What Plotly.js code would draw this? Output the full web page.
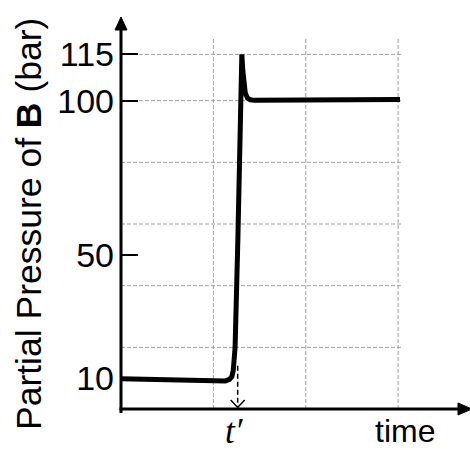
<!DOCTYPE html>
<html>
<head>
<meta charset="utf-8">
<script src="https://cdn.plot.ly/plotly-3.0.1.min.js"></script>
<style>html,body{margin:0;padding:0;background:#fff;}#chart{width:470px;height:450px;}</style>
</head>
<body>
<div id="chart"></div>
<script>
// ---- data ----
const timeVals = [0, 0.5, 1.0, 1.13, 1.175, 1.2, 1.215, 1.235, 1.265, 1.292, 1.305, 1.308, 1.318, 1.33, 1.345, 1.37, 1.40, 1.45, 2.0, 3.02];
const pressureVals = [9.8, 9.5, 9.1, 9.1, 9.6, 10.5, 12.5, 20, 55, 94, 112, 115, 110, 105, 102.5, 100.8, 100.3, 100.1, 100.2, 100.4];
const yTickVals = [10, 50, 100, 115];
const yTickText = ['10', '50', '100', '115'];
const gridY = [20, 40, 60, 80, 100, 115];
const gridX = [1, 2, 3];
const tPrime = 1.263;
const tPrimeArrowTop = 14;
const xRange = [0, 3.02];
const yRange = [0, 120];

// pixel geometry of plot area
const W = 470, H = 450;
const mL = 121, mR = 70, mT = 39, mB = 41;
const pw = W - mL - mR, ph = H - mT - mB;
const pxX = (xRange[1] - xRange[0]) / pw; // data units per px
const pxY = (yRange[1] - yRange[0]) / ph;

const shapes = [];
gridY.forEach(v => shapes.push({type:'line', xref:'paper', yref:'y', x0:0, x1:1.006, y0:v, y1:v,
  line:{color:'#a0a0a0', width:1, dash:'4px,2px'}, layer:'below'}));
gridX.forEach(v => shapes.push({type:'line', xref:'x', yref:'paper', x0:v, x1:v, y0:0, y1:1,
  line:{color:'#a0a0a0', width:1, dash:'4px,2px'}, layer:'below'}));
// axes with arrowheads
const axW = 3;
shapes.push({type:'line', xref:'paper', yref:'paper', x0:0, x1:0, y0:-4/ph, y1:(ph+10)/ph, line:{color:'#000', width:axW}});
shapes.push({type:'path', xref:'paper', yref:'paper',
  path:`M 0 ${(ph+22)/ph} L ${-6/pw} ${(ph+9)/ph} L ${6/pw} ${(ph+9)/ph} Z`, fillcolor:'#000', line:{color:'#000', width:1}});
shapes.push({type:'line', xref:'paper', yref:'paper', x0:-1.5/pw, x1:(W - mL - 12)/pw, y0:0, y1:0, line:{color:'#000', width:axW}});
shapes.push({type:'path', xref:'paper', yref:'paper',
  path:`M ${(W - mL + 2)/pw} 0 L ${(W - mL - 12)/pw} ${6/ph} L ${(W - mL - 12)/pw} ${-6/ph} Z`, fillcolor:'#000', line:{color:'#000', width:1}});
// dashed arrow at t'
shapes.push({type:'line', xref:'x', yref:'y', x0:tPrime, x1:tPrime, y0:tPrimeArrowTop, y1:1.5*pxY,
  line:{color:'#000', width:1.5, dash:'5px,3px'}});
shapes.push({type:'path', xref:'x', yref:'y',
  path:`M ${tPrime - 7*pxX} ${9*pxY} L ${tPrime} ${1.5*pxY} L ${tPrime + 7*pxX} ${9*pxY}`,
  line:{color:'#000', width:1.5}});

const trace = {
  x: timeVals, y: pressureVals, type:'scatter', mode:'lines',
  line:{color:'#000', width:5, shape:'linear'}, hoverinfo:'skip'
};

const layout = {
  width: W, height: H,
  margin:{l:mL, r:mR, t:mT, b:mB, pad:0},
  paper_bgcolor:'#fff', plot_bgcolor:'#fff',
  showlegend:false,
  font:{family:'Liberation Sans, Arial, sans-serif', color:'#000'},
  xaxis:{range:xRange, showgrid:false, zeroline:false, showline:false, showticklabels:false, ticks:'', fixedrange:true},
  yaxis:{range:yRange, tickmode:'array', tickvals:yTickVals, ticktext:yTickText,
    ticks:'inside', ticklen:17, tickwidth:2, tickcolor:'#000',
    tickfont:{family:'Liberation Sans, Arial, sans-serif', size:34, color:'#000'},
    ticklabelstandoff:6,
    showgrid:false, zeroline:false, showline:false, fixedrange:true},
  shapes: shapes,
  annotations:[
    {text:'Partial Pressure of <b>B</b> (bar)', xref:'paper', yref:'paper', x:(29-mL)/pw, y:(mT+ph-224)/ph,
     xanchor:'center', yanchor:'middle', textangle:-90, showarrow:false,
     font:{family:'Liberation Sans, Arial, sans-serif', size:35.5, color:'#000'}},
    {text:'time', xref:'paper', yref:'paper', x:(404.5-mL)/pw, y:(mT+ph-431)/ph,
     xanchor:'center', yanchor:'middle', showarrow:false,
     font:{family:'Liberation Sans, Arial, sans-serif', size:32, color:'#000'}},
    {text:'<i>t′</i>', xref:'paper', yref:'paper', x:(234.5-mL)/pw, y:(mT+ph-431)/ph,
     xanchor:'center', yanchor:'middle', showarrow:false,
     font:{family:'Liberation Serif, DejaVu Serif, serif', size:35, color:'#000'}}
  ]
};

Plotly.newPlot('chart', [trace], layout, {staticPlot:true, displayModeBar:false});
</script>
</body>
</html>
